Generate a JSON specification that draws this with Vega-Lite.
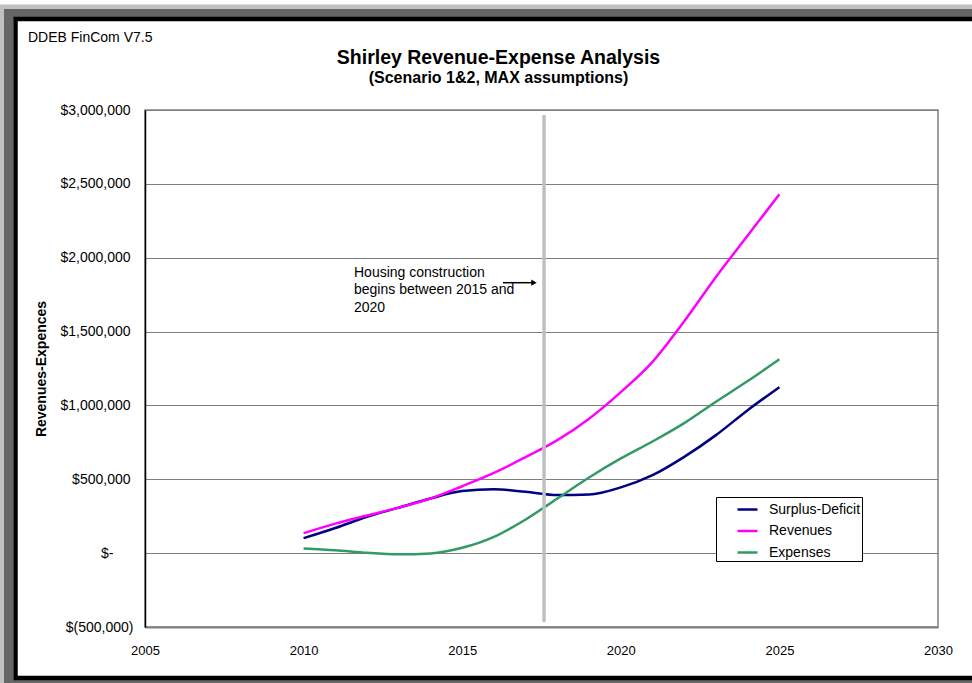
{
  "$schema": "https://vega.github.io/schema/vega-lite/v6.json",
  "width": 793,
  "height": 517,
  "autosize": {"type": "none"},
  "padding": {"left": 145, "top": 110, "right": 34, "bottom": 56},
  "background": "white",
  "title": {
    "text": "Shirley Revenue-Expense Analysis",
    "subtitle": "(Scenario 1&2, MAX assumptions)",
    "anchor": "middle",
    "frame": "group",
    "dx": -43,
    "offset": -83,
    "font": "Liberation Sans",
    "fontSize": 19.5,
    "fontWeight": "bold",
    "color": "black",
    "subtitleFont": "Liberation Sans",
    "subtitleFontSize": 16,
    "subtitleFontWeight": "bold",
    "subtitleColor": "black",
    "subtitlePadding": 2
  },
  "layer": [
    {
      "data": {"values": [{}]},
      "mark": {"type": "rect", "filled": false, "color": "#666666", "strokeWidth": 9, "opacity": 1},
      "encoding": {
        "x": {"datum": 2000.697, "type": "quantitative", "title": null, "scale": {"domain": [2005, 2030], "nice": false, "zero": false}},
        "x2": {"datum": 2031.83},
        "y": {"datum": 3656690, "type": "quantitative", "title": null, "scale": {"domain": [-500000, 3000000], "nice": false, "zero": false}},
        "y2": {"datum": -889365}
      }
    },
    {
      "data": {"values": [{}]},
      "mark": {"type": "rect", "filled": false, "color": "#c0c0c0", "strokeWidth": 4.5, "opacity": 1},
      "encoding": {
        "x": {"datum": 2000.484, "type": "quantitative", "title": null, "scale": {"domain": [2005, 2030], "nice": false, "zero": false}},
        "x2": {"datum": 2031.95},
        "y": {"datum": 3699000, "type": "quantitative", "title": null, "scale": {"domain": [-500000, 3000000], "nice": false, "zero": false}},
        "y2": {"datum": -994300}
      }
    },
    {
      "data": {"values": [{}]},
      "mark": {"type": "rect", "filled": false, "color": "black", "strokeWidth": 4.5, "opacity": 1},
      "encoding": {
        "x": {"datum": 2000.917, "type": "quantitative", "title": null, "scale": {"domain": [2005, 2030], "nice": false, "zero": false}},
        "x2": {"datum": 2031.83},
        "y": {"datum": 3616070, "type": "quantitative", "title": null, "scale": {"domain": [-500000, 3000000], "nice": false, "zero": false}},
        "y2": {"datum": -845360}
      }
    },
    {
      "data": {
        "values": [
          {"year": 2010, "series": "Surplus-Deficit", "value": 101000},
          {"year": 2011, "series": "Surplus-Deficit", "value": 170000},
          {"year": 2012, "series": "Surplus-Deficit", "value": 246000},
          {"year": 2013, "series": "Surplus-Deficit", "value": 308000},
          {"year": 2014, "series": "Surplus-Deficit", "value": 370000},
          {"year": 2015, "series": "Surplus-Deficit", "value": 420000},
          {"year": 2016, "series": "Surplus-Deficit", "value": 432000},
          {"year": 2017, "series": "Surplus-Deficit", "value": 415000},
          {"year": 2018, "series": "Surplus-Deficit", "value": 393000},
          {"year": 2019, "series": "Surplus-Deficit", "value": 397000},
          {"year": 2020, "series": "Surplus-Deficit", "value": 445000},
          {"year": 2021, "series": "Surplus-Deficit", "value": 528000},
          {"year": 2022, "series": "Surplus-Deficit", "value": 652000},
          {"year": 2023, "series": "Surplus-Deficit", "value": 799000},
          {"year": 2024, "series": "Surplus-Deficit", "value": 968000},
          {"year": 2025, "series": "Surplus-Deficit", "value": 1124000},
          {"year": 2010, "series": "Revenues", "value": 135000},
          {"year": 2011, "series": "Revenues", "value": 200000},
          {"year": 2012, "series": "Revenues", "value": 255000},
          {"year": 2013, "series": "Revenues", "value": 308000},
          {"year": 2014, "series": "Revenues", "value": 370000},
          {"year": 2015, "series": "Revenues", "value": 453000},
          {"year": 2016, "series": "Revenues", "value": 543000},
          {"year": 2017, "series": "Revenues", "value": 650000},
          {"year": 2018, "series": "Revenues", "value": 765000},
          {"year": 2019, "series": "Revenues", "value": 910000},
          {"year": 2020, "series": "Revenues", "value": 1090000},
          {"year": 2021, "series": "Revenues", "value": 1295000},
          {"year": 2022, "series": "Revenues", "value": 1570000},
          {"year": 2023, "series": "Revenues", "value": 1870000},
          {"year": 2024, "series": "Revenues", "value": 2150000},
          {"year": 2025, "series": "Revenues", "value": 2430000},
          {"year": 2010, "series": "Expenses", "value": 32000},
          {"year": 2011, "series": "Expenses", "value": 20000},
          {"year": 2012, "series": "Expenses", "value": 2000},
          {"year": 2013, "series": "Expenses", "value": -8000},
          {"year": 2014, "series": "Expenses", "value": -2000},
          {"year": 2015, "series": "Expenses", "value": 36000},
          {"year": 2016, "series": "Expenses", "value": 110000},
          {"year": 2017, "series": "Expenses", "value": 228000},
          {"year": 2018, "series": "Expenses", "value": 370000},
          {"year": 2019, "series": "Expenses", "value": 512000},
          {"year": 2020, "series": "Expenses", "value": 641000},
          {"year": 2021, "series": "Expenses", "value": 756000},
          {"year": 2022, "series": "Expenses", "value": 880000},
          {"year": 2023, "series": "Expenses", "value": 1025000},
          {"year": 2024, "series": "Expenses", "value": 1165000},
          {"year": 2025, "series": "Expenses", "value": 1313000}
        ]
      },
      "mark": {"type": "line", "interpolate": "monotone", "strokeWidth": 2.5},
      "encoding": {
        "x": {
          "field": "year", "type": "quantitative",
          "scale": {"domain": [2005, 2030], "nice": false, "zero": false},
          "axis": {
            "values": [2005, 2010, 2015, 2020, 2025, 2030],
            "format": "d",
            "title": null,
            "grid": false,
            "ticks": false,
            "tickSize": 0,
            "labelPadding": 17,
            "labelFont": "Liberation Sans",
            "labelFontSize": 13,
            "labelColor": "black",
            "labelFlush": false,
            "labelOverlap": false,
            "domainColor": "#808080",
            "domainWidth": 2
          }
        },
        "y": {
          "field": "value", "type": "quantitative",
          "scale": {"domain": [-500000, 3000000], "nice": false, "zero": false},
          "axis": {
            "values": [-500000, 0, 500000, 1000000, 1500000, 2000000, 2500000, 3000000],
            "labelExpr": "datum.value == 0 ? '$-' : datum.value < 0 ? '$(' + format(-datum.value, ',') + ')' : '$' + format(datum.value, ',')",
            "title": "Revenues-Expences",
            "titleFont": "Liberation Sans",
            "titleFontSize": 14,
            "titleFontWeight": "bold",
            "titleColor": "black",
            "titleX": -104,
            "titleY": 258.5,
            "titleAngle": -90,
            "titleAlign": "center",
            "titleBaseline": "middle",
            "labelFont": "Liberation Sans",
            "labelFontSize": 14,
            "labelColor": "black",
            "labelPadding": {"condition": [{"test": "datum.value == 0", "value": 32}, {"test": "datum.value < 0", "value": 12}], "value": 15},
            "labelOverlap": false,
            "ticks": false,
            "tickSize": 0,
            "grid": true,
            "gridColor": "#808080",
            "gridWidth": 1,
            "domainColor": "black",
            "domainWidth": 1.5
          }
        },
        "color": {
          "field": "series", "type": "nominal",
          "scale": {"domain": ["Surplus-Deficit", "Revenues", "Expenses"], "range": ["#000080", "#ff00ff", "#339966"]},
          "legend": {
            "orient": "none",
            "legendX": 571,
            "legendY": 387,
            "title": null,
            "fillColor": "white",
            "strokeColor": "black",
            "padding": 1,
            "symbolType": "stroke",
            "symbolSize": 400,
            "symbolStrokeWidth": 2.5,
            "symbolOffset": 19,
            "labelOffset": 10,
            "rowPadding": 2.5,
            "labelFont": "Liberation Sans",
            "labelFontSize": 14,
            "labelColor": "black"
          }
        }
      }
    },
    {
      "data": {"values": [{}]},
      "mark": {"type": "rule", "color": "#c0c0c0", "strokeWidth": 3.5},
      "encoding": {
        "x": {"datum": 2017.58, "type": "quantitative", "title": null, "scale": {"domain": [2005, 2030], "nice": false, "zero": false}},
        "y": {"datum": 2966000, "type": "quantitative", "title": null, "scale": {"domain": [-500000, 3000000], "nice": false, "zero": false}},
        "y2": {"datum": -466000}
      }
    },
    {
      "data": {"values": [{}]},
      "mark": {"type": "text", "align": "left", "baseline": "alphabetic", "font": "Liberation Sans", "fontSize": 14, "color": "black", "lineHeight": 17.5},
      "encoding": {
        "x": {"datum": 2011.589, "type": "quantitative", "title": null, "scale": {"domain": [2005, 2030], "nice": false, "zero": false}},
        "y": {"datum": 1869443, "type": "quantitative", "title": null, "scale": {"domain": [-500000, 3000000], "nice": false, "zero": false}},
        "text": {"value": ["Housing construction", "begins between 2015 and", "2020"]}
      }
    },
    {
      "data": {"values": [{}]},
      "mark": {"type": "rule", "color": "black", "strokeWidth": 1.5},
      "encoding": {
        "x": {"datum": 2016.286, "type": "quantitative", "title": null, "scale": {"domain": [2005, 2030], "nice": false, "zero": false}},
        "x2": {"datum": 2017.2},
        "y": {"datum": 1830856, "type": "quantitative", "title": null, "scale": {"domain": [-500000, 3000000], "nice": false, "zero": false}}
      }
    },
    {
      "data": {"values": [{}]},
      "mark": {"type": "point", "shape": "triangle-right", "filled": true, "color": "black", "size": 40, "opacity": 1},
      "encoding": {
        "x": {"datum": 2017.263, "type": "quantitative", "title": null, "scale": {"domain": [2005, 2030], "nice": false, "zero": false}},
        "y": {"datum": 1830856, "type": "quantitative", "title": null, "scale": {"domain": [-500000, 3000000], "nice": false, "zero": false}}
      }
    },
    {
      "data": {"values": [{}]},
      "mark": {"type": "text", "align": "left", "baseline": "alphabetic", "font": "Liberation Sans", "fontSize": 14, "color": "black"},
      "encoding": {
        "x": {"datum": 2001.311, "type": "quantitative", "title": null, "scale": {"domain": [2005, 2030], "nice": false, "zero": false}},
        "y": {"datum": 3460346, "type": "quantitative", "title": null, "scale": {"domain": [-500000, 3000000], "nice": false, "zero": false}},
        "text": {"value": "DDEB FinCom V7.5"}
      }
    }
  ],
  "config": {
    "view": {"stroke": "#808080", "strokeWidth": 1.5}
  }
}
